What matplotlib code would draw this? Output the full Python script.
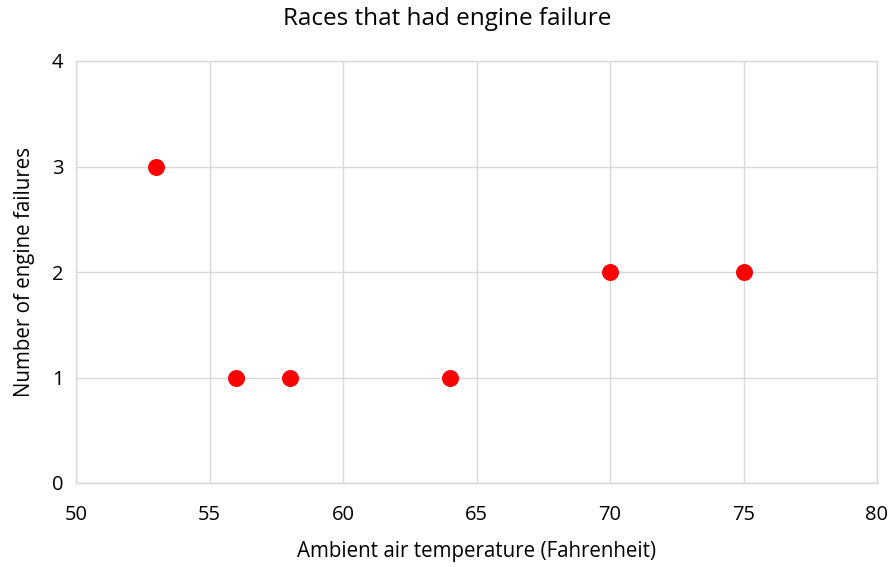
import matplotlib
matplotlib.use("Agg")
import matplotlib.pyplot as plt

# races with at least one engine failure
temps = [53, 56, 58, 64, 70, 75]
failures = [3, 1, 1, 1, 2, 2]

x_ticks = [50, 55, 60, 65, 70, 75, 80]
y_ticks = [0, 1, 2, 3, 4]

plt.rcParams['font.family'] = ['Open Sans', 'DejaVu Sans']

fig = plt.figure(figsize=(8.95, 5.67), dpi=100)
ax = fig.add_axes([76/895, 1 - 483/567, (877 - 76)/895, (483 - 61)/567])

ax.scatter(temps, failures, s=125, color='#ff0000', zorder=3, clip_on=False)

ax.set_xlim(50, 80)
ax.set_ylim(0, 4)
ax.set_xticks(x_ticks)
ax.set_yticks(y_ticks)
ax.grid(True, color='#d9d9d9', linewidth=1.0)
for s in ax.spines.values():
    s.set_color('#d9d9d9')
    s.set_linewidth(1.0)
ax.tick_params(length=0, labelsize=14.5, colors='#000000')
ax.tick_params(axis='x', pad=16)
ax.tick_params(axis='y', pad=9)

ax.set_xlabel('Ambient air temperature (Fahrenheit)', fontsize=14.8, labelpad=11)
ax.set_ylabel('Number of engine failures', fontsize=14.8, labelpad=12)
# title is centred on the whole figure, not the axes
fig.text(0.5, 1 - 19/567, 'Races that had engine failure', fontsize=17.5,
         ha='center', va='center')

fig.savefig('out.png', dpi=100)
